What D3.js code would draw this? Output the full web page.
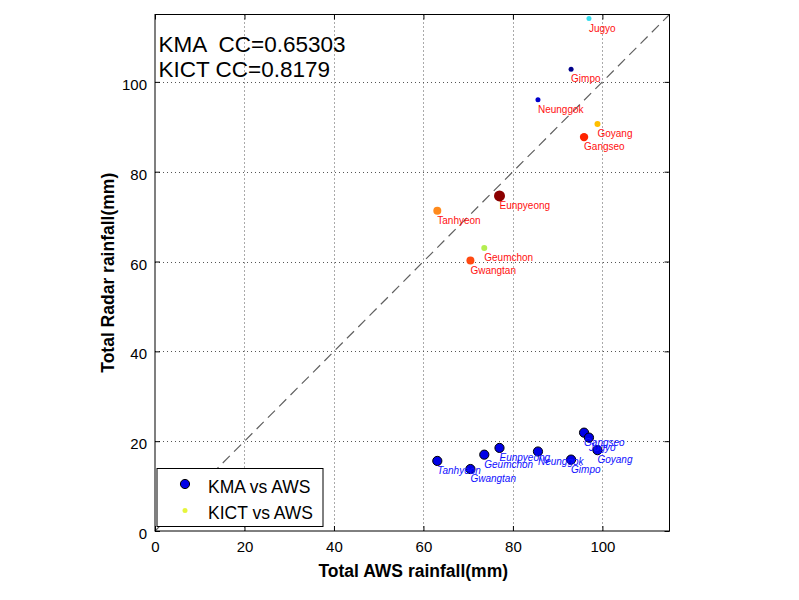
<!DOCTYPE html>
<html>
<head>
<meta charset="utf-8">
<script src="https://cdn.jsdelivr.net/npm/d3@7"></script>
<style>
  html, body { margin: 0; padding: 0; background: #fff; }
  svg { display: block; font-family: "Liberation Sans", Arial, Helvetica, sans-serif; }
</style>
</head>
<body>
<svg id="chart" width="799" height="600"></svg>
<script>
// ---- data ----
const stations = ["Tanhyeon","Gwangtan","Geumchon","Eunpyeong","Neunggok","Gimpo","Gangseo","Jugyo","Goyang"];
const awsRain  = [63.1, 70.5, 73.6, 77.0, 85.6, 93.0, 95.9, 97.0, 98.9];
const kmaRain  = [15.6, 13.8, 17.0, 18.5, 17.7, 15.9, 21.9, 20.8, 18.0];
const kictRain = [71.3, 60.2, 63.0, 74.6, 96.0, 102.8, 87.7, 114.1, 90.6];
const xTicks = [0, 20, 40, 60, 80, 100];
const yTicks = [0, 20, 40, 60, 80, 100];
const ccLines = ["KMA  CC=0.65303", "KICT CC=0.8179"];
const legendLabels = ["KMA vs AWS", "KICT vs AWS"];

// ---- styles ----
const kictColors = ["#ff8a1c","#ff4a12","#b4ee50","#8b0000","#0000cc","#00008b","#ff2400","#33dced","#ffbf00"];
const kictRadius = [4, 4, 3, 5.5, 2.5, 2.5, 4.2, 2.5, 3];

const svg = d3.select("#chart");
const L = 155, R = 669.5, T = 14.5, B = 531;
const x = d3.scaleLinear().domain([0, 115]).range([L, R]);
const y = d3.scaleLinear().domain([0, 115]).range([B, T]);

// grid
const grid = svg.append("g");
grid.selectAll(".gx").data(xTicks.filter(d => d > 0)).enter().append("line")
  .attr("x1", d => Math.round(x(d)) + 0.5).attr("x2", d => Math.round(x(d)) + 0.5)
  .attr("y1", T).attr("y2", B)
  .attr("stroke", "#555").attr("stroke-width", 1).attr("stroke-dasharray", "1,3");
grid.selectAll(".gy").data(yTicks.filter(d => d > 0)).enter().append("line")
  .attr("y1", d => Math.round(y(d)) + 0.5).attr("y2", d => Math.round(y(d)) + 0.5)
  .attr("x1", L).attr("x2", R)
  .attr("stroke", "#555").attr("stroke-width", 1).attr("stroke-dasharray", "1,3");

// 1:1 dashed line
svg.append("line")
  .attr("x1", x(0)).attr("y1", y(0)).attr("x2", x(115)).attr("y2", y(115))
  .attr("stroke", "#606060").attr("stroke-width", 1.2).attr("stroke-dasharray", "10,6");

// axes (ticks inward, box on)
const tickLen = 5;
const axB = d3.axisBottom(x).tickValues(xTicks).tickSize(-tickLen).tickPadding(10).tickFormat(d3.format("d"));
const axL = d3.axisLeft(y).tickValues(yTicks).tickSize(-tickLen).tickPadding(8).tickFormat(d3.format("d"));
const axT = d3.axisTop(x).tickValues(xTicks).tickSize(-tickLen).tickFormat("");
const axR = d3.axisRight(y).tickValues(yTicks).tickSize(-tickLen).tickFormat("");

function styleAxis(g) {
  g.select(".domain").remove();
  g.selectAll(".tick line").attr("stroke", "#000");
  g.selectAll(".tick text").attr("fill", "#000").style("font-size", "15px")
    .style("font-family", "'Liberation Sans', Arial, sans-serif");
}
svg.append("g").attr("transform", `translate(0,${B})`).call(axB).call(styleAxis);
svg.append("g").attr("transform", `translate(${L},0)`).call(axL).call(styleAxis)
  .selectAll(".tick text").attr("dy", "0.5em");
svg.append("g").attr("transform", `translate(0,${T})`).call(axT).call(styleAxis);
svg.append("g").attr("transform", `translate(${R},0)`).call(axR).call(styleAxis);

// frame
svg.append("rect").attr("x", L).attr("y", T).attr("width", R - L).attr("height", B - T)
  .attr("fill", "none").attr("stroke", "#000").attr("stroke-width", 1);

// KICT points + labels
const idx = d3.range(stations.length);
svg.append("g").selectAll("circle").data(idx).enter().append("circle")
  .attr("cx", i => x(awsRain[i])).attr("cy", i => y(kictRain[i]))
  .attr("r", i => kictRadius[i]).attr("fill", i => kictColors[i]);
svg.append("g").selectAll("text").data(idx).enter().append("text")
  .attr("x", i => x(awsRain[i])).attr("y", i => y(kictRain[i]) + 13)
  .attr("fill", "#ff1010").style("font-size", "10px").text(i => stations[i]);

// KMA points + labels
svg.append("g").selectAll("circle").data(idx).enter().append("circle")
  .attr("cx", i => x(awsRain[i])).attr("cy", i => y(kmaRain[i]))
  .attr("r", 4.6).attr("fill", "#0000e6").attr("stroke", "#000").attr("stroke-width", 1);
svg.append("g").selectAll("text").data(idx).enter().append("text")
  .attr("x", i => x(awsRain[i])).attr("y", i => y(kmaRain[i]) + 13)
  .attr("fill", "#1010ff").style("font-size", "10px").style("font-style", "italic").text(i => stations[i]);

// CC text
svg.append("g").selectAll("text").data(ccLines).enter().append("text")
  .attr("x", 158.5).attr("y", (d, i) => 52 + i * 25)
  .attr("fill", "#000").style("font-size", "22.5px").style("white-space", "pre")
  .attr("xml:space", "preserve").text(d => d);

// legend
const lg = svg.append("g");
lg.append("rect").attr("x", 157).attr("y", 468.5).attr("width", 166).attr("height", 58)
  .attr("fill", "#fff").attr("stroke", "#000").attr("stroke-width", 1);
lg.append("circle").attr("cx", 185).attr("cy", 484).attr("r", 4.6)
  .attr("fill", "#0000e6").attr("stroke", "#000").attr("stroke-width", 1);
lg.append("circle").attr("cx", 185).attr("cy", 510.5).attr("r", 2.5).attr("fill", "#e6f53c");
lg.selectAll("text").data(legendLabels).enter().append("text")
  .attr("x", 208).attr("y", (d, i) => 493 + i * 26)
  .attr("fill", "#000").style("font-size", "17.5px").text(d => d);

// axis titles
svg.append("text").attr("x", (L + R) / 2 + 1).attr("y", 577)
  .attr("text-anchor", "middle").style("font-size", "17.5px").style("font-weight", "bold")
  .text("Total AWS rainfall(mm)");
svg.append("text").attr("transform", `translate(114,${(T + B) / 2}) rotate(-90)`)
  .attr("text-anchor", "middle").style("font-size", "17.5px").style("font-weight", "bold")
  .text("Total Radar rainfall(mm)");
</script>
</body>
</html>
